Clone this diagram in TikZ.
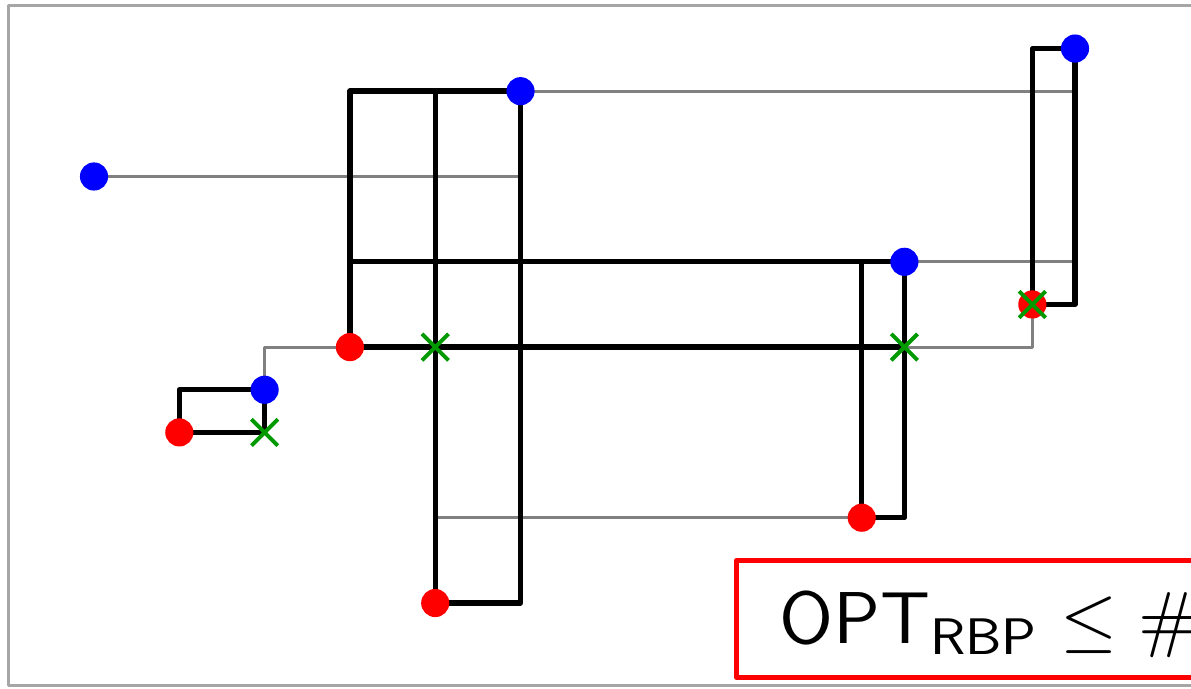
\documentclass[tikz,border=0pt]{standalone}
\usepackage{amsmath}
\usepackage{amssymb}
\usetikzlibrary{
  arrows.meta, % 箭头样式
  calc         % 坐标计算
}

\begin{document}
\begin{tikzpicture}[x=1cm, y=1cm, line join=round,
  thick line/.style={line width=1.8pt, black},
  thin line/.style={line width=1pt, gray},
  cross mark/.style={line width=1.3pt, green!60!black},
  bound box/.style={draw=red, line width=1.8pt, inner xsep=0.5cm,
    minimum height=1.37cm, text height=0.62cm, text depth=0.05cm}]
  % 半径、叉号大小与文字放大倍数
  \def\dotR{0.165}
  \def\crs{0.155}
  \def\txtscale{2.45}

  % 画布范围（右侧被裁切）
  \useasboundingbox (-1.102,-0.9965) rectangle (12.860,7.069);
  \draw[black!35, line width=1pt] (-0.9965,-0.967) rectangle (14,7);

  % 蓝点
  \coordinate (bA) at (0, 5);
  \coordinate (bB) at (5, 6);
  \coordinate (bC) at (11.5, 6.5);
  \coordinate (bD) at (9.5, 4);
  \coordinate (bE) at (2, 2.5);
  % 红点
  \coordinate (rA) at (1, 2);
  \coordinate (rB) at (3, 3);
  \coordinate (rC) at (4, 0);
  \coordinate (rD) at (9, 1);
  \coordinate (rE) at (11, 3.5);

  % 1. 灰色细线
  \draw[thin line] (bA) -- (bB |- bA);
  \draw[thin line] (bB) -- (bC |- bB);
  \draw[thin line] (bD) -- (bC |- bD);
  \draw[thin line] (bD |- rB) -| (rE);
  \draw[thin line] (bE) |- (rB);
  \draw[thin line] (rC |- rD) -- (rD);

  % 2. 黑色矩形（红点与蓝点为对角）
  \draw[thick line] (rA) |- (bE) |- (rA);
  \draw[thick line] (rB) |- (bB) |- (rB);
  \draw[thick line] (rC) |- (bB) |- (rC);
  \draw[thick line] (rB) |- (bD) |- (rB);
  \draw[thick line] (rD) |- (bD) |- (rD);
  \draw[thick line] (rE) |- (bC) |- (rE);

  % 3. 端点
  \foreach \p in {bA, bB, bC, bD, bE}
    \fill[blue] (\p) circle (\dotR);
  \foreach \p in {rA, rB, rC, rD, rE}
    \fill[red] (\p) circle (\dotR);

  % 4. 绿色叉号
  \coordinate (xA) at (bE |- rA);
  \coordinate (xB) at (rC |- rB);
  \coordinate (xC) at (bD |- rB);
  \foreach \p in {xA, xB, xC, rE}
    \draw[cross mark] (\p) ++(-\crs,-\crs) -- ++(2*\crs,2*\crs)
                      (\p) ++(-\crs,\crs) -- ++(2*\crs,-2*\crs);

  % 5. 结论框
  \node[bound box, anchor=west] (bound) at (7.5,-0.185)
    {\scalebox{\txtscale}{$\mathsf{OPT}_{\mathsf{RBP}} \leq \#$}};
\end{tikzpicture}
\end{document}
